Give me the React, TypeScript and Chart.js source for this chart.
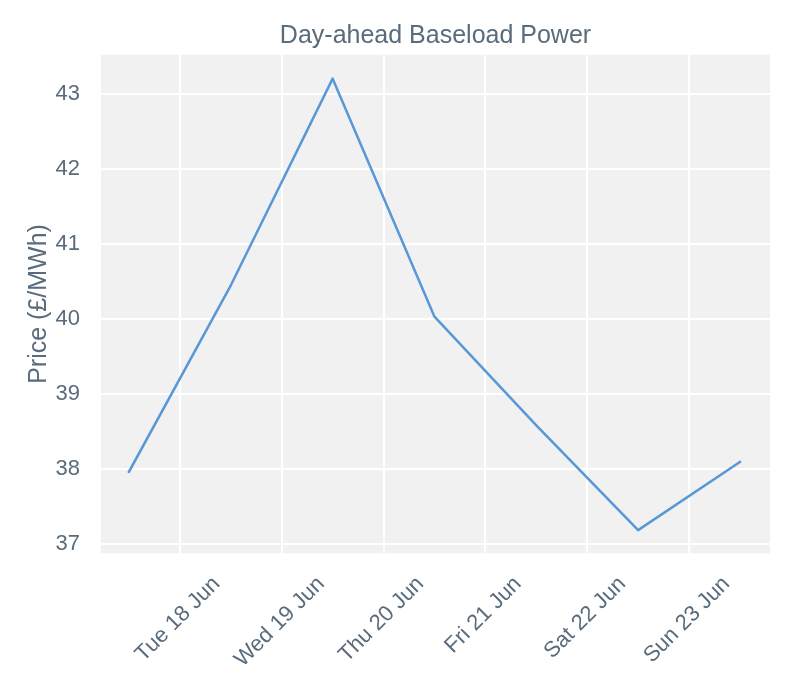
import React, { useEffect, useRef } from "react";
import { Chart, registerables } from "chart.js";

Chart.register(...registerables);

// Days counted from Mon 17 Jun 00:00; values at midday
const dayPositions = [0.5, 1.5, 2.5, 3.5, 4.5, 5.5, 6.5];
const prices = [37.96, 40.45, 43.21, 40.03, 38.58, 37.18, 38.09];
const xTickPositions = [1, 2, 3, 4, 5, 6];
const xTickLabels = ["Tue 18 Jun", "Wed 19 Jun", "Thu 20 Jun", "Fri 21 Jun", "Sat 22 Jun", "Sun 23 Jun"];
const yTicks = [37, 38, 39, 40, 41, 42, 43];

const TITLE = "Day-ahead Baseload Power";
const Y_LABEL = "Price (£/MWh)";
const TEXT_COLOR = "#5a6b7b";
const LINE_COLOR = "#5898d6";
const BG_COLOR = "#f1f1f1";
const FONT_FAMILY = '"Liberation Sans", Arial, Helvetica, sans-serif';

const bgPlugin = {
  id: "plotBackground",
  beforeDraw(chart: any) {
    const { ctx, chartArea } = chart;
    ctx.save();
    ctx.fillStyle = BG_COLOR;
    ctx.fillRect(chartArea.left, chartArea.top, chartArea.right - chartArea.left, chartArea.bottom - chartArea.top);
    ctx.restore();
  },
};

const xLabelPlugin = {
  id: "rotatedXLabels",
  afterDraw(chart: any) {
    const { ctx } = chart;
    const xs = chart.scales.x;
    const size = 22;
    ctx.save();
    ctx.font = `${size}px ${FONT_FAMILY}`;
    ctx.fillStyle = TEXT_COLOR;
    ctx.textAlign = "center";
    ctx.textBaseline = "middle";
    xTickPositions.forEach((v, i) => {
      const label = xTickLabels[i];
      const w = ctx.measureText(label).width;
      const px = xs.getPixelForValue(v) - 2;
      const half = (w + 0.72 * size) / (2 * Math.SQRT2);
      const cy = xs.top + 21.7 + half;
      ctx.save();
      ctx.translate(px, cy);
      ctx.rotate(-Math.PI / 4);
      ctx.fillText(label, 0, 0);
      ctx.restore();
    });
    ctx.restore();
  },
};

export default function App() {
  const canvasRef = useRef<HTMLCanvasElement | null>(null);

  useEffect(() => {
    if (!canvasRef.current) return;
    const chart = new Chart(canvasRef.current, {
      type: "line",
      data: {
        datasets: [
          {
            data: dayPositions.map((x, i) => ({ x, y: prices[i] })),
            borderColor: LINE_COLOR,
            borderWidth: 2.5,
            borderJoinStyle: "round",
            borderCapStyle: "square",
            pointRadius: 0,
            tension: 0,
            fill: false,
          },
        ],
      },
      options: {
        animation: false,
        responsive: false,
        devicePixelRatio: 1,
        layout: { padding: { top: 0, right: 30, bottom: 0, left: 0 } },
        plugins: {
          legend: { display: false },
          tooltip: { enabled: false },
          title: {
            display: true,
            text: TITLE,
            fullSize: false,
            color: TEXT_COLOR,
            font: { family: FONT_FAMILY, size: 25, weight: "normal", lineHeight: 1.2 },
            padding: { top: 21.3, bottom: 3.4 },
          },
        },
        scales: {
          x: {
            type: "linear",
            min: 0.225,
            max: 6.795,
            afterBuildTicks: (scale: any) => {
              scale.ticks = xTickPositions.map((v) => ({ value: v }));
            },
            afterFit: (scale: any) => {
              scale.height = 146.7;
            },
            ticks: { display: false },
            grid: { color: "#ffffff", lineWidth: 2, drawTicks: false },
            border: { display: false },
          },
          y: {
            type: "linear",
            min: 36.87,
            max: 43.53,
            afterBuildTicks: (scale: any) => {
              scale.ticks = yTicks.map((v) => ({ value: v }));
            },
            afterFit: (scale: any) => {
              scale.width = 101;
            },
            ticks: {
              color: TEXT_COLOR,
              padding: 21,
              font: { family: FONT_FAMILY, size: 22 },
            },
            grid: { color: "#ffffff", lineWidth: 2, drawTicks: false },
            border: { display: false },
            title: {
              display: true,
              text: Y_LABEL,
              color: TEXT_COLOR,
              font: { family: FONT_FAMILY, size: 25, lineHeight: 1.2 },
              padding: { top: 24.3, bottom: 0 },
            },
          },
        },
      },
      plugins: [bgPlugin, xLabelPlugin],
    } as any);
    return () => chart.destroy();
  }, []);

  return (
    <div style={{ position: "fixed", left: 0, top: 0, width: 800, height: 700, background: "#ffffff" }}>
      <canvas ref={canvasRef} width={800} height={700} style={{ display: "block", width: 800, height: 700 }} />
    </div>
  );
}
